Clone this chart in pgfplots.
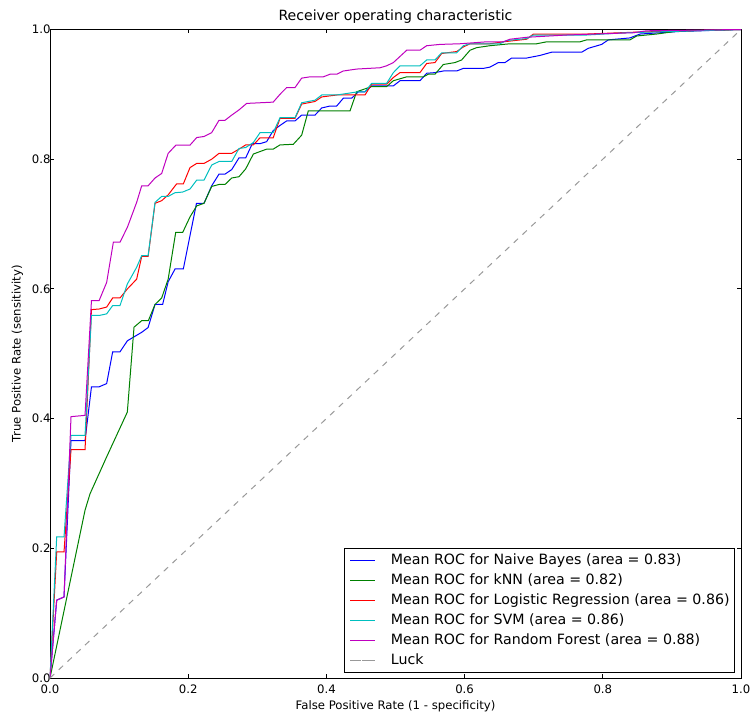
\documentclass[border=0pt]{standalone}
\usepackage{pgfplots}
\pgfplotsset{compat=1.18}
\usepackage{fontspec}
\setmainfont{DejaVu Sans}
\definecolor{mblue}{rgb}{0,0,1}
\definecolor{mgreen}{rgb}{0,0.5,0}
\definecolor{mred}{rgb}{1,0,0}
\definecolor{mcyan}{rgb}{0,0.75,0.75}
\definecolor{mmag}{rgb}{0.75,0,0.75}
\definecolor{mgray}{rgb}{0.6,0.6,0.6}
\begin{document}
\begin{tikzpicture}
\begin{axis}[
  at={(0,0)}, anchor=south west,
  scale only axis,
  width=691pt, height=648.5pt,
  xmin=0, xmax=1, ymin=0, ymax=1,
  xtick={0,0.2,0.4,0.6,0.8,1.0},
  ytick={0,0.2,0.4,0.6,0.8,1.0},
  xtick pos=both, ytick pos=both,
  tick align=inside,
  major tick length=4pt,
  tick style={black, line width=0.8pt},
  axis line style={black, line width=0.8pt},
  /pgf/number format/assume math mode=true,
  xticklabel style={/pgf/number format/fixed, /pgf/number format/precision=1, /pgf/number format/fixed zerofill, font=\fontsize{11.7}{14}\selectfont, yshift=-3pt},
  yticklabel style={/pgf/number format/fixed, /pgf/number format/precision=1, /pgf/number format/fixed zerofill, font=\fontsize{11.7}{14}\selectfont, xshift=4pt},
  title={Receiver operating characteristic},
  title style={font=\fontsize{14.1}{16}\selectfont, yshift=-3pt},
  xlabel={False Positive Rate (1 - specificity)},
  ylabel={True Positive Rate (sensitivity)},
  label style={font=\fontsize{11.7}{14}\selectfont},
  xlabel style={yshift=0pt},
  ylabel style={yshift=2pt},
  legend cell align=left,
  legend style={at={(rel axis cs:1,0)}, anchor=south east, xshift=-6pt, yshift=5pt,
    draw=black, line width=0.8pt, font=\fontsize{14.2}{17}\selectfont,
    nodes={inner sep=0pt, text height=13.5pt, text depth=6.5pt},
    row sep=0pt, column sep=15pt, inner xsep=5pt, inner ysep=2pt},
  legend image code/.code={\path (0pt,0pt) -- (25pt,0pt); \draw[#1] (5pt,0pt) -- (25pt,0pt);},
  every axis plot/.append style={line width=1pt},
]
\addplot[mblue] coordinates {
(0,0) (0.0097,0.12) (0.0203,0.125) (0.0304,0.366) (0.0507,0.366) (0.060,0.449) (0.0711,0.449) (0.0820,0.454) (0.0907,0.503) (0.1013,0.503) (0.112,0.520) (0.1326,0.533) (0.142,0.5405) (0.152,0.576) (0.163,0.576) (0.171,0.611) (0.1811,0.631) (0.193,0.631) (0.212,0.732) (0.2229,0.732) (0.234,0.759) (0.2446,0.777) (0.2533,0.777) (0.263,0.784) (0.2735,0.802) (0.2832,0.802) (0.2928,0.824) (0.304,0.824) (0.3135,0.827) (0.323,0.844) (0.3328,0.852) (0.3425,0.859) (0.3546,0.859) (0.3642,0.868) (0.3835,0.868) (0.3932,0.879) (0.4052,0.882) (0.4149,0.882) (0.4245,0.894) (0.4366,0.894) (0.4462,0.904) (0.4559,0.904) (0.4655,0.913) (0.4969,0.913) (0.5065,0.921) (0.5354,0.921) (0.5451,0.9325) (0.5571,0.9335) (0.5692,0.936) (0.5885,0.936) (0.5981,0.940) (0.6271,0.940) (0.6367,0.942) (0.6488,0.949) (0.6584,0.949) (0.6681,0.956) (0.6898,0.956) (0.7091,0.960) (0.7260,0.965) (0.7694,0.965) (0.7790,0.971) (0.7983,0.977) (0.8080,0.984) (0.8393,0.987) (0.8538,0.993) (0.9117,0.997) (1,1)
};
\addlegendentry{Mean ROC for Naive Bayes (area = 0.83)}
\addplot[mgreen] coordinates {
(0,0) (0.0507,0.2587) (0.0579,0.284) (0.082,0.341) (0.1119,0.41) (0.1216,0.541) (0.1327,0.551) (0.1423,0.551) (0.152,0.576) (0.1616,0.586) (0.171,0.615) (0.1819,0.687) (0.192,0.687) (0.2026,0.711) (0.2123,0.728) (0.2229,0.732) (0.234,0.758) (0.2446,0.761) (0.2533,0.761) (0.263,0.771) (0.2735,0.773) (0.2832,0.785) (0.2943,0.808) (0.3135,0.8155) (0.323,0.8155) (0.3328,0.822) (0.3521,0.823) (0.3642,0.837) (0.3738,0.8745) (0.4342,0.8745) (0.4438,0.904) (0.4655,0.912) (0.4872,0.912) (0.4969,0.921) (0.5162,0.927) (0.5403,0.927) (0.5475,0.931) (0.5571,0.931) (0.5692,0.946) (0.5861,0.949) (0.5957,0.953) (0.6078,0.968) (0.6174,0.972) (0.6367,0.975) (0.6657,0.978) (0.7043,0.978) (0.7188,0.981) (0.7670,0.981) (0.7767,0.984) (0.8393,0.984) (0.8490,0.990) (0.8779,0.993) (0.9117,0.998) (1,1)
};
\addlegendentry{Mean ROC for kNN (area = 0.82)}
\addplot[mred] coordinates {
(0,0) (0.0097,0.1945) (0.0203,0.1945) (0.0304,0.352) (0.0507,0.352) (0.060,0.568) (0.0711,0.569) (0.082,0.572) (0.0907,0.586) (0.1013,0.586) (0.112,0.600) (0.1254,0.615) (0.1327,0.650) (0.142,0.650) (0.152,0.732) (0.1616,0.736) (0.171,0.745) (0.1833,0.762) (0.193,0.762) (0.2026,0.787) (0.2123,0.7935) (0.2229,0.7935) (0.234,0.800) (0.2446,0.809) (0.263,0.809) (0.2735,0.8155) (0.2832,0.822) (0.2943,0.822) (0.304,0.833) (0.323,0.833) (0.3329,0.863) (0.3546,0.863) (0.3642,0.885) (0.3835,0.889) (0.3932,0.896) (0.4149,0.899) (0.4559,0.899) (0.4655,0.9156) (0.4872,0.9156) (0.4969,0.926) (0.5065,0.9335) (0.5354,0.9335) (0.5451,0.9476) (0.5571,0.949) (0.5668,0.963) (0.5885,0.966) (0.5981,0.973) (0.6078,0.978) (0.6367,0.978) (0.6560,0.981) (0.6898,0.985) (0.6995,0.993) (0.7767,0.993) (0.85,0.996) (1,1)
};
\addlegendentry{Mean ROC for Logistic Regression (area = 0.86)}
\addplot[mcyan] coordinates {
(0,0) (0.0097,0.2176) (0.0203,0.2176) (0.0304,0.374) (0.0507,0.374) (0.060,0.559) (0.0711,0.559) (0.082,0.5615) (0.0907,0.5743) (0.1013,0.5743) (0.112,0.6077) (0.1254,0.6333) (0.1327,0.6513) (0.142,0.6513) (0.152,0.7334) (0.1616,0.7426) (0.171,0.7426) (0.1808,0.7483) (0.1919,0.7493) (0.2026,0.754) (0.2123,0.7678) (0.2229,0.7678) (0.234,0.791) (0.2446,0.7965) (0.263,0.7965) (0.2735,0.8165) (0.2832,0.818) (0.2943,0.8257) (0.304,0.841) (0.323,0.841) (0.3329,0.864) (0.3546,0.864) (0.3642,0.887) (0.3835,0.891) (0.3932,0.899) (0.4149,0.899) (0.4462,0.904) (0.4559,0.904) (0.4655,0.917) (0.4872,0.917) (0.4969,0.9335) (0.5065,0.944) (0.5354,0.944) (0.5451,0.953) (0.5571,0.953) (0.5668,0.964) (0.5885,0.964) (0.5981,0.975) (0.6078,0.978) (0.6512,0.978) (0.6608,0.983) (0.6898,0.986) (0.6995,0.9915) (0.7767,0.9915) (0.8345,0.995) (1,1)
};
\addlegendentry{Mean ROC for SVM (area = 0.86)}
\addplot[mmag] coordinates {
(0,0) (0.0097,0.12) (0.0203,0.125) (0.0304,0.403) (0.0507,0.405) (0.060,0.582) (0.0711,0.582) (0.082,0.610) (0.0917,0.672) (0.1013,0.672) (0.112,0.695) (0.1254,0.7334) (0.1327,0.759) (0.142,0.759) (0.152,0.771) (0.1616,0.778) (0.171,0.809) (0.1822,0.8217) (0.2026,0.8217) (0.2123,0.8334) (0.2229,0.835) (0.234,0.841) (0.2446,0.860) (0.2533,0.860) (0.263,0.868) (0.2735,0.876) (0.2846,0.886) (0.323,0.888) (0.3328,0.900) (0.3425,0.9105) (0.3546,0.9105) (0.3642,0.925) (0.3762,0.927) (0.3955,0.927) (0.4052,0.931) (0.4149,0.931) (0.4245,0.936) (0.4438,0.939) (0.4776,0.941) (0.4872,0.944) (0.4969,0.949) (0.5162,0.968) (0.5354,0.968) (0.5451,0.975) (0.5644,0.977) (0.5933,0.978) (0.6319,0.981) (0.6560,0.981) (0.6657,0.985) (0.6898,0.988) (0.7477,0.9915) (0.8441,0.995) (0.8634,0.998) (1,1)
};
\addlegendentry{Mean ROC for Random Forest (area = 0.88)}
\addplot[mgray, dash pattern=on 6pt off 6pt,
  legend image code/.code={\path (0pt,0pt) -- (25pt,0pt); \draw[mgray, line width=1pt] (5pt,0pt) -- (12pt,0pt) (18pt,0pt) -- (25pt,0pt);}] coordinates {(0,0) (1,1)};
\addlegendentry{Luck}
\end{axis}
\pgfresetboundingbox
\useasboundingbox (-50pt,-40pt) rectangle (705pt,678pt);
\end{tikzpicture}
\end{document}
